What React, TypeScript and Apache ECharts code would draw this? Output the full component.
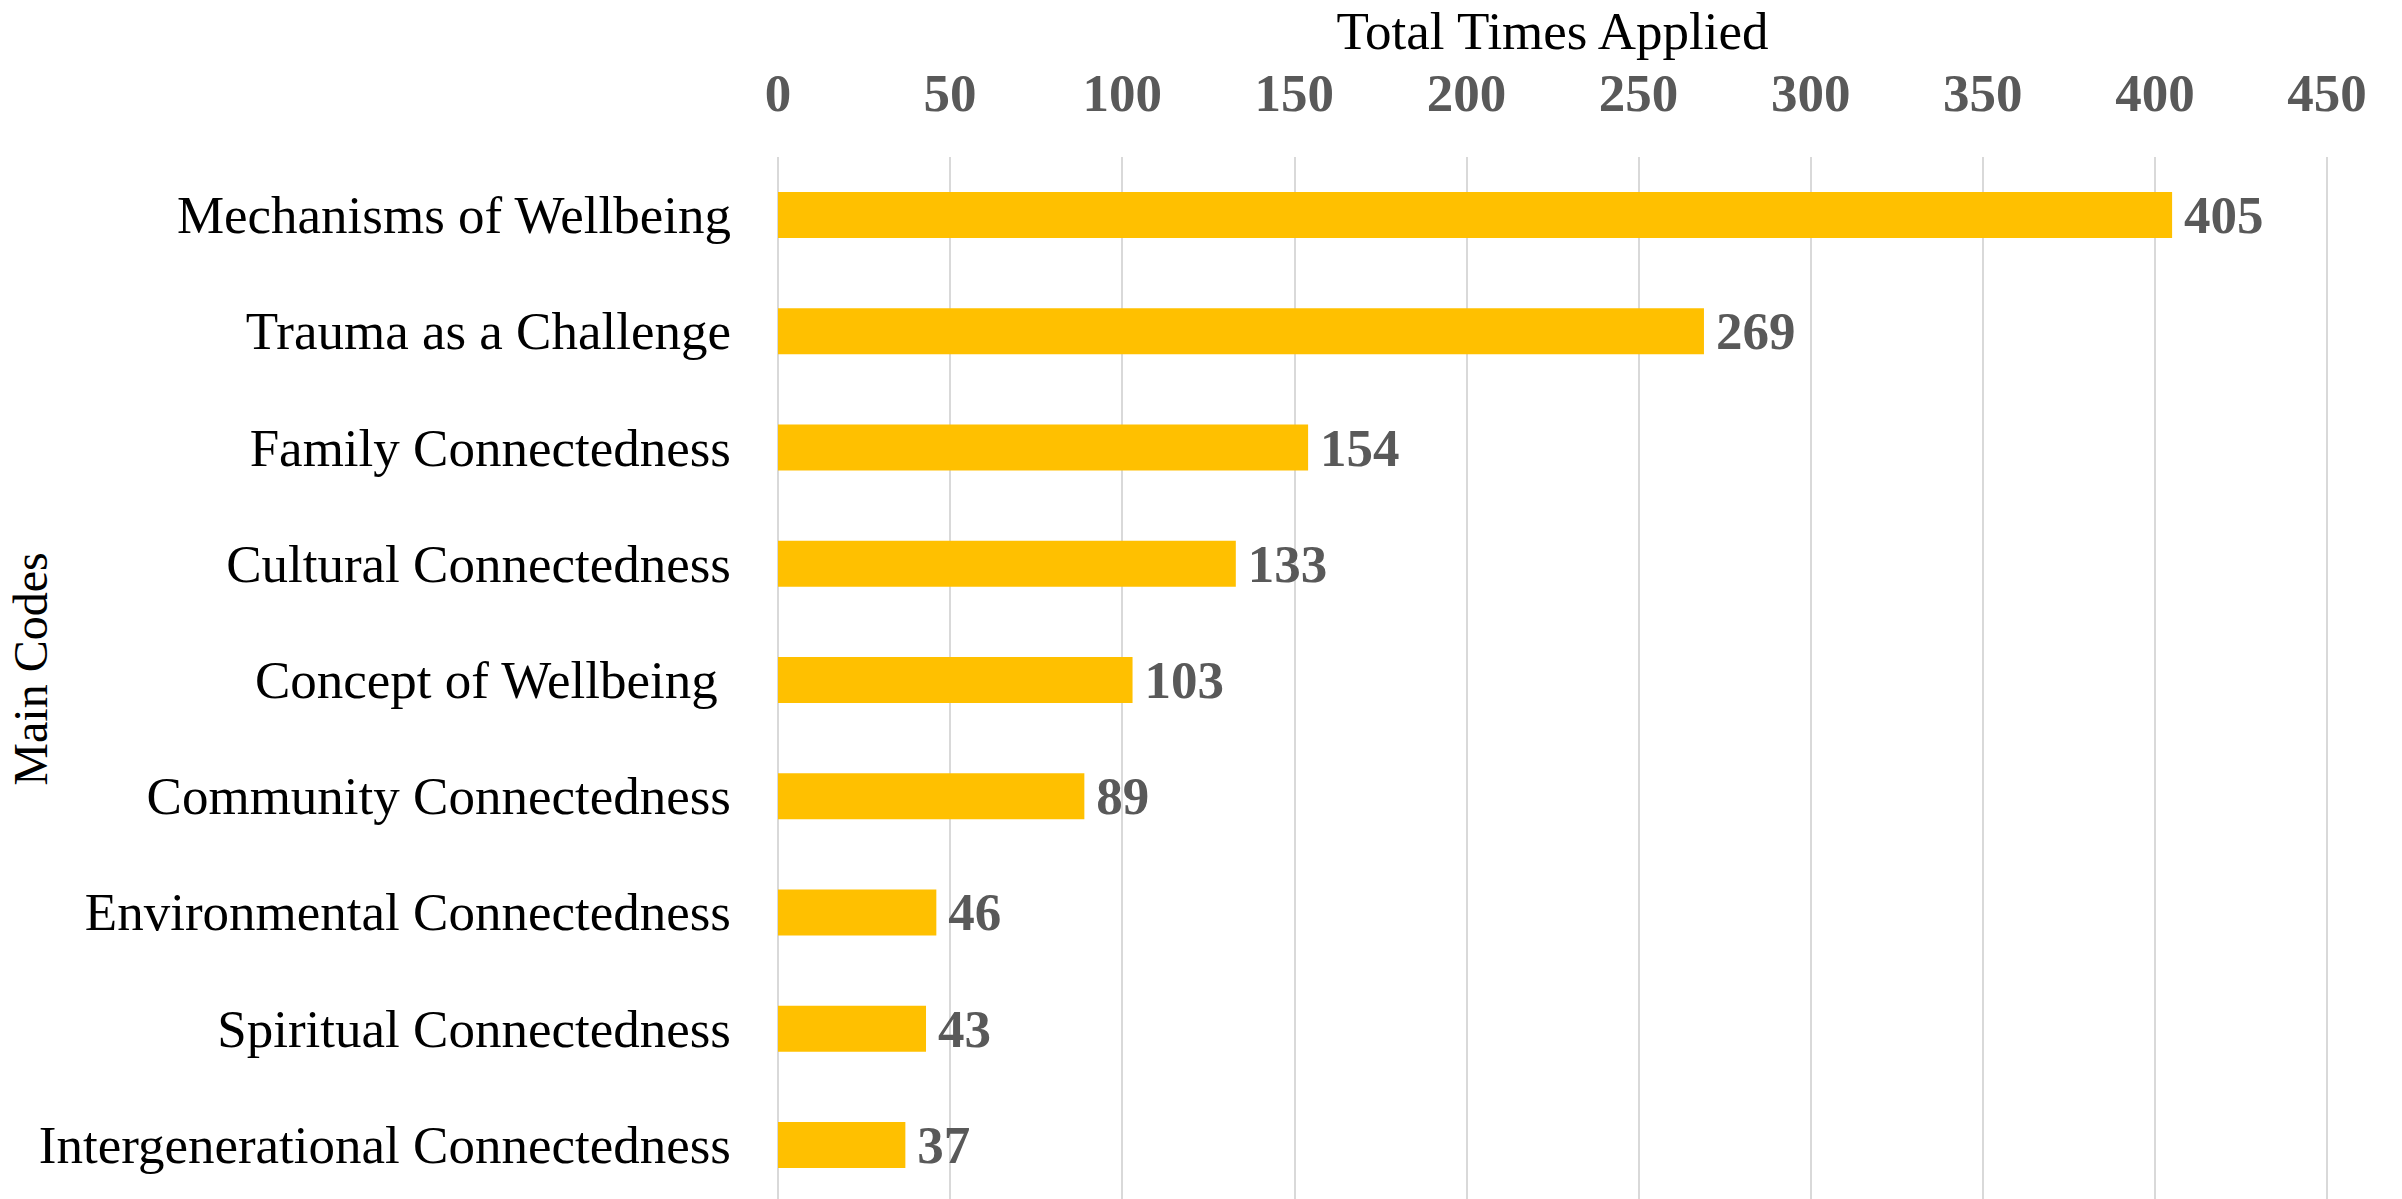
import React, { useEffect, useRef } from "react";
import * as echarts from "echarts";

const categories = [
  "Mechanisms of Wellbeing",
  "Trauma as a Challenge",
  "Family Connectedness",
  "Cultural Connectedness",
  "Concept of Wellbeing\u00a0",
  "Community Connectedness",
  "Environmental Connectedness",
  "Spiritual Connectedness",
  "Intergenerational Connectedness",
];
const values = [405, 269, 154, 133, 103, 89, 46, 43, 37];
const xTicks = { min: 0, max: 450, interval: 50 };
const xTitle = "Total Times Applied";
const yTitle = "Main Codes";

const FONT = '"Liberation Serif", "Times New Roman", serif';

export default function App() {
  const ref = useRef<HTMLDivElement>(null);
  useEffect(() => {
    if (!ref.current) return;
    const chart = echarts.init(ref.current, null, { renderer: "svg" });
    chart.setOption({
      animation: false,
      backgroundColor: "#ffffff",
      grid: {
        left: 778,
        top: 157,
        width: 1549,
        height: 1046,
        containLabel: false,
        outerBoundsMode: "none",
      },
      graphic: [
        {
          type: "text",
          x: 30,
          y: 669,
          rotation: Math.PI / 2,
          style: {
            text: yTitle,
            fontFamily: FONT,
            fontSize: 48,
            fill: "#000000",
            textAlign: "center",
            textVerticalAlign: "middle",
          },
        },
      ],
      xAxis: {
        type: "value",
        position: "top",
        min: xTicks.min,
        max: xTicks.max,
        interval: xTicks.interval,
        name: xTitle,
        nameLocation: "middle",
        nameGap: 100,
        nameTextStyle: { fontFamily: FONT, fontSize: 53, color: "#000000" },
        axisLine: { show: false },
        axisTick: { show: false },
        axisLabel: {
          fontFamily: FONT,
          fontSize: 53,
          fontWeight: "bold",
          color: "#595959",
          margin: 38,
        },
        splitLine: { show: true, lineStyle: { color: "#D9D9D9", width: 2 } },
      },
      yAxis: {
        type: "category",
        data: categories,
        inverse: true,
        axisLine: { show: false },
        axisTick: { show: false },
        axisLabel: {
          fontFamily: FONT,
          fontSize: 53,
          color: "#000000",
          margin: 47,
        },
        splitLine: { show: false },
      },
      series: [
        {
          type: "bar",
          data: values,
          barWidth: 46,
          itemStyle: { color: "#FFC000" },
          label: {
            show: true,
            position: "right",
            distance: 12,
            fontFamily: FONT,
            fontSize: 53,
            fontWeight: "bold",
            color: "#595959",
          },
        },
      ],
    });
    return () => chart.dispose();
  }, []);
  return (
    <div
      ref={ref}
      style={{ position: "fixed", left: 0, top: 0, width: 2402, height: 1199 }}
    />
  );
}
